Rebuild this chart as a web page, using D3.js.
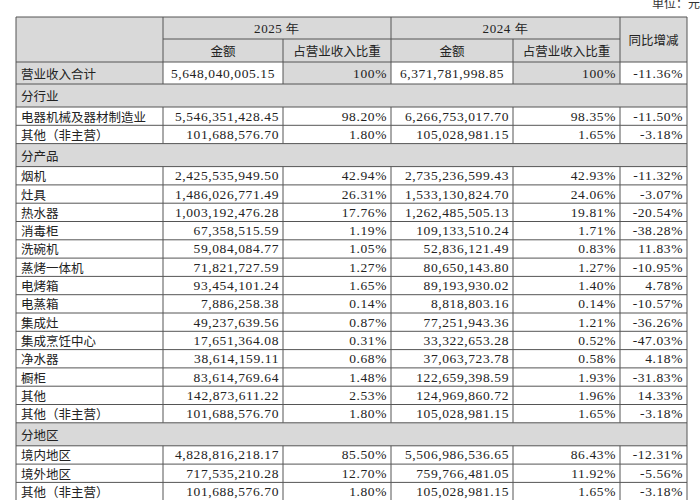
<!DOCTYPE html>
<html><head><meta charset="utf-8">
<script src="https://cdn.jsdelivr.net/npm/d3@7"></script>
<style>body{margin:0;background:#fff}</style></head>
<body><svg id="c" width="700" height="500"></svg>
<script>
const labels=["营业收入合计","分行业","电器机械及器材制造业","其他（非主营）","分产品","烟机","灶具","热水器","消毒柜","洗碗机","蒸烤一体机","电烤箱","电蒸箱","集成灶","集成烹饪中心","净水器","橱柜","其他","其他（非主营）","分地区","境内地区","境外地区","其他（非主营）",""];
const amt2025=["5,648,040,005.15","","5,546,351,428.45","101,688,576.70","","2,425,535,949.50","1,486,026,771.49","1,003,192,476.28","67,358,515.59","59,084,084.77","71,821,727.59","93,454,101.24","7,886,258.38","49,237,639.56","17,651,364.08","38,614,159.11","83,614,769.64","142,873,611.22","101,688,576.70","","4,828,816,218.17","717,535,210.28","101,688,576.70",""];
const pct2025=["100%","","98.20%","1.80%","","42.94%","26.31%","17.76%","1.19%","1.05%","1.27%","1.65%","0.14%","0.87%","0.31%","0.68%","1.48%","2.53%","1.80%","","85.50%","12.70%","1.80%",""];
const amt2024=["6,371,781,998.85","","6,266,753,017.70","105,028,981.15","","2,735,236,599.43","1,533,130,824.70","1,262,485,505.13","109,133,510.24","52,836,121.49","80,650,143.80","89,193,930.02","8,818,803.16","77,251,943.36","33,322,653.28","37,063,723.78","122,659,398.59","124,969,860.72","105,028,981.15","","5,506,986,536.65","759,766,481.05","105,028,981.15",""];
const pct2024=["100%","","98.35%","1.65%","","42.93%","24.06%","19.81%","1.71%","0.83%","1.27%","1.40%","0.14%","1.21%","0.52%","0.58%","1.93%","1.96%","1.65%","","86.43%","11.92%","1.65%",""];
const yoy=["-11.36%","","-11.50%","-3.18%","","-11.32%","-3.07%","-20.54%","-38.28%","11.83%","-10.95%","4.78%","-10.57%","-36.26%","-47.03%","4.18%","-31.83%","14.33%","-3.18%","","-12.31%","-5.56%","-3.18%",""];
const sections=new Set([1,4,19,23]);

const svg=d3.select("#c");
const gray="#d9d9d9", line="#555";
const colX=[16,163,283,391,513,620,687];
const cjk="'Noto Sans CJK SC',sans-serif", num="'Liberation Serif','DejaVu Serif',serif";
// row heights
const hts=labels.map((l,i)=>i===0?22:(sections.has(i)?(i===23?20:23):18.3));
let y0=62; const ys=hts.map(h=>{const y=y0;y0+=h;return y;});

svg.append("text").attr("x",700).attr("y",8).attr("text-anchor","end").attr("font-family",cjk).attr("font-size",12).attr("fill","#333").text("单位：元");

// header
const hTop=17,hMid=39,hBot=62;
const g=svg.append("g");
g.append("rect").attr("x",colX[0]).attr("y",hTop).attr("width",colX[6]-colX[0]).attr("height",hBot-hTop).attr("fill",gray);
function txt(x,y,t,anchor,font,size){g.append("text").attr("x",x).attr("y",y).attr("text-anchor",anchor).attr("dominant-baseline","central").attr("font-family",font).attr("font-size",size).attr("fill","#222").text(t);}
txt((colX[1]+colX[3])/2,(hTop+hMid)/2,"2025 年","middle",num,13);
txt((colX[3]+colX[5])/2,(hTop+hMid)/2,"2024 年","middle",num,13);
["金额","占营业收入比重","金额","占营业收入比重"].forEach((t,i)=>txt((colX[i+1]+colX[i+2])/2,(hMid+hBot)/2,t,"middle",cjk,12.5));
txt((colX[5]+colX[6])/2,(hTop+hBot)/2,"同比增减","middle",cjk,12.5);

// rows
labels.forEach((l,i)=>{
  const y=ys[i],h=hts[i];
  if(sections.has(i)){
    g.append("rect").attr("x",colX[0]).attr("y",y).attr("width",colX[6]-colX[0]).attr("height",h).attr("fill",gray);
    txt(colX[0]+5,y+h/2,l,"start",cjk,12.5);
  } else {
    if(i===0){
      [0,2,4].forEach(c=>g.append("rect").attr("x",colX[c]).attr("y",y).attr("width",colX[c+1]-colX[c]).attr("height",h).attr("fill",gray));
    }
    txt(colX[0]+5,y+h/2,l,"start",cjk,12.5);
    [amt2025[i],pct2025[i],amt2024[i],pct2024[i],yoy[i]].forEach((v,c)=>{
      if(i===0&&(c===0||c===2)) txt((colX[c+1]+colX[c+2])/2,y+h/2,v,"middle",num,13.5);
      else txt(colX[c+2]-4,y+h/2,v,"end",num,13.5);
    });
  }
  if(!sections.has(i)){
    for(let c=1;c<6;c++) g.append("line").attr("x1",colX[c]).attr("x2",colX[c]).attr("y1",y).attr("y2",y+h).attr("stroke",line);
  }
  g.append("line").attr("x1",colX[0]).attr("x2",colX[6]).attr("y1",y).attr("y2",y).attr("stroke",line);
});
// header lines
g.append("line").attr("x1",colX[0]).attr("x2",colX[6]).attr("y1",hTop).attr("y2",hTop).attr("stroke",line);
g.append("line").attr("x1",colX[1]).attr("x2",colX[5]).attr("y1",hMid).attr("y2",hMid).attr("stroke",line);
[1,3,5].forEach(c=>g.append("line").attr("x1",colX[c]).attr("x2",colX[c]).attr("y1",hTop).attr("y2",hBot).attr("stroke",line));
[2,4].forEach(c=>g.append("line").attr("x1",colX[c]).attr("x2",colX[c]).attr("y1",hMid).attr("y2",hBot).attr("stroke",line));
[0,6].forEach(c=>g.append("line").attr("x1",colX[c]).attr("x2",colX[c]).attr("y1",hTop).attr("y2",520).attr("stroke",line));
g.selectAll("text").filter(function(){return this.getAttribute("font-family")===num}).attr("letter-spacing",0.6);
</script></body></html>
